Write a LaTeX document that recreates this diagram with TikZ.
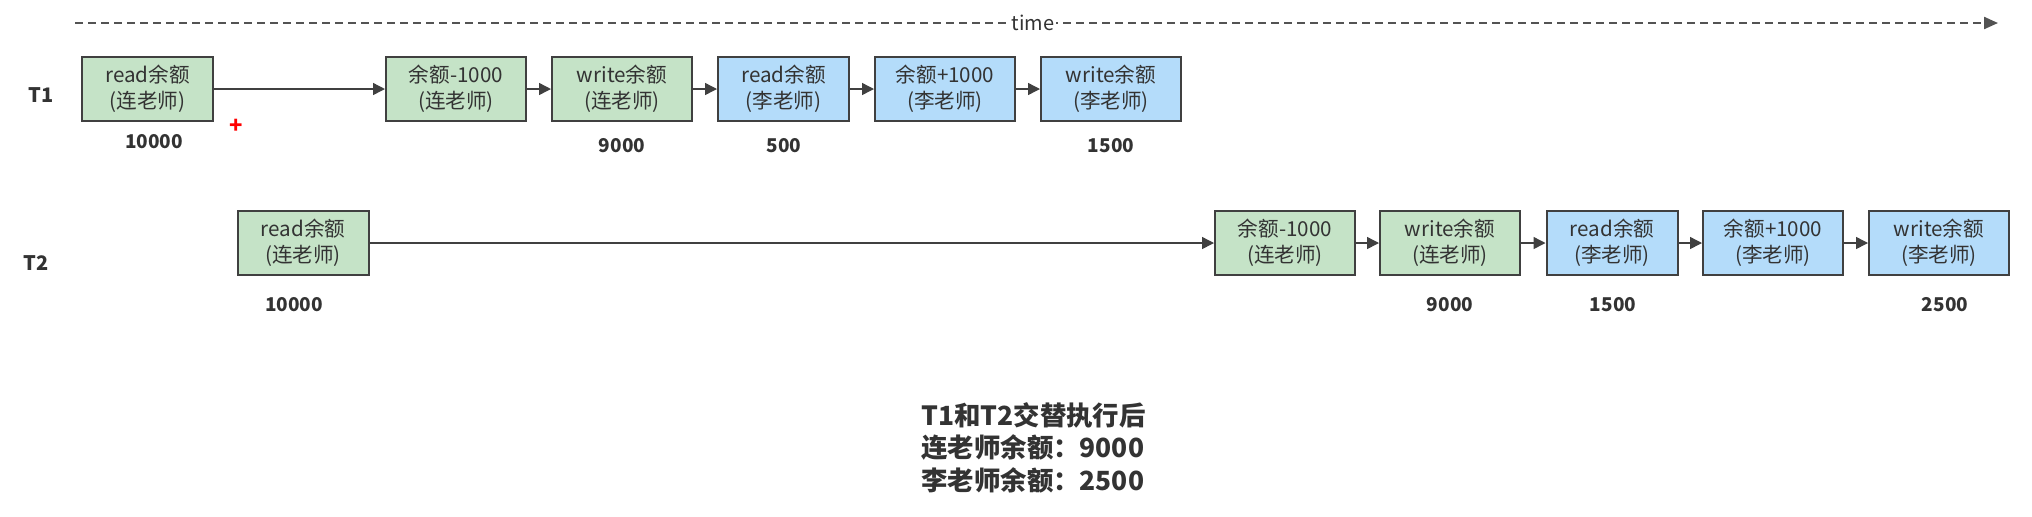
\documentclass[tikz,border=0pt]{standalone}
\usepackage{fontspec}
\setmainfont{Noto Sans CJK SC}
\usetikzlibrary{arrows.meta}
\definecolor{gfill}{RGB}{197,227,199}
\definecolor{bfill}{RGB}{180,220,250}
\definecolor{edge}{RGB}{64,64,64}
\definecolor{txt}{RGB}{51,51,51}
\tikzset{
  opbox/.style={draw=edge, line width=1pt, minimum height=32pt, inner sep=1pt,
    align=center, font=\fontsize{10.3}{13}\selectfont, text=txt},
  gbox/.style={opbox, fill=gfill},
  bbox/.style={opbox, fill=bfill},
  narrow/.style={minimum width=65.5pt},
  wide/.style={minimum width=70pt},
  val/.style={font=\fontsize{9.5}{11}\selectfont\bfseries, text=txt},
  lane/.style={font=\fontsize{10}{12}\selectfont\bfseries, text=txt},
  flow/.style={draw=edge, line width=0.7pt, -{Triangle[length=6pt,width=6pt]}},
}
\begin{document}
\begin{tikzpicture}[x=0.5pt,y=-0.5pt]
\useasboundingbox (0,0) rectangle (2032,516);
% time axis
\coordinate (t0) at (75,23);
\coordinate (t1) at (1998,23);
\draw[draw=edge!90, line width=1.1pt, dash pattern=on 4pt off 2.5pt, -{Triangle[length=7pt,width=6pt]}] (t0) -- (t1);
\node[fill=white, inner sep=1pt, font=\fontsize{10}{11}\selectfont, text=txt] (time) at (1033,23) {time};
% lane labels
\node[lane] (L1) at (41,95) {T1};
\node[lane] (L2) at (36,263) {T2};
% T1 row
\node[gbox, narrow] (a1) at (147.5,89) {read余额\\(连老师)};
\node[gbox, wide]   (a2) at (456,89) {余额-1000\\(连老师)};
\node[gbox, wide]   (a3) at (622,89) {write余额\\(连老师)};
\node[bbox, narrow] (a4) at (783.5,89) {read余额\\(李老师)};
\node[bbox, wide]   (a5) at (945,89) {余额+1000\\(李老师)};
\node[bbox, wide]   (a6) at (1111,89) {write余额\\(李老师)};
\draw[flow] (a1) -- (a2);
\draw[flow] (a2) -- (a3);
\draw[flow] (a3) -- (a4);
\draw[flow] (a4) -- (a5);
\draw[flow] (a5) -- (a6);
\node[val] (v1) at (154,142) {10000};
\node[val] (v3) at (622,146) {9000};
\node[val] (v4) at (784,146) {500};
\node[val] (v6) at (1111,146) {1500};
\node[text=red, font=\fontsize{11}{12}\selectfont\bfseries] (cursor) at (236,126) {+};
% T2 row
\node[gbox, narrow] (b1) at (303,243) {read余额\\(连老师)};
\node[gbox, wide]   (b2) at (1285,243) {余额-1000\\(连老师)};
\node[gbox, wide]   (b3) at (1450,243) {write余额\\(连老师)};
\node[bbox, narrow] (b4) at (1612,243) {read余额\\(李老师)};
\node[bbox, wide]   (b5) at (1773,243) {余额+1000\\(李老师)};
\node[bbox, wide]   (b6) at (1939,243) {write余额\\(李老师)};
\draw[flow] (b1) -- (b2);
\draw[flow] (b2) -- (b3);
\draw[flow] (b3) -- (b4);
\draw[flow] (b4) -- (b5);
\draw[flow] (b5) -- (b6);
\node[val] (w1) at (294,305) {10000};
\node[val] (w3) at (1450,305) {9000};
\node[val] (w4) at (1613,305) {1500};
\node[val] (w6) at (1945,305) {2500};
% summary
\node[anchor=north west, align=left, inner sep=0pt, text=txt,
  font=\fontsize{13.2}{16.3}\selectfont\bfseries] (sum) at (921,402)
  {T1和T2交替执行后\\连老师余额：9000\\李老师余额：2500};
\end{tikzpicture}
\end{document}
